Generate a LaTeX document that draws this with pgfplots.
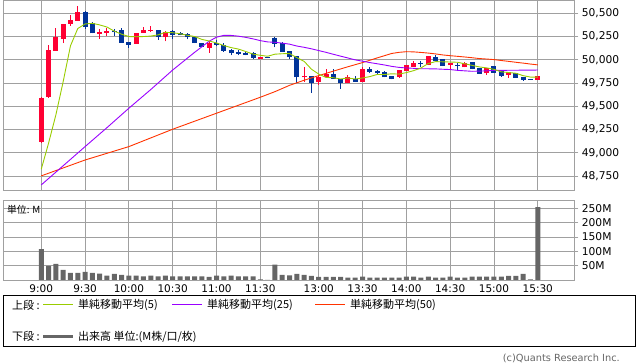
\documentclass[border=0pt]{standalone}
\usepackage{pgfplots}
\pgfplotsset{compat=1.18}
\usepackage{pgfplotstable}
\usepackage{fontspec}
\setmainfont{DejaVu Sans}
\newfontfamily\jp{Noto Sans CJK JP}
\definecolor{cUp}{HTML}{FF0033}
\definecolor{cDn}{HTML}{003399}
\definecolor{cMAa}{HTML}{99CC00}
\definecolor{cMAb}{HTML}{9900FF}
\definecolor{cMAc}{HTML}{FF3300}
\definecolor{gridc}{HTML}{A0A0A0}
\definecolor{volc}{HTML}{666666}

\pgfplotstableread{
i o h l c
0 49120 49604 49100 49586
1 49597 50159 49590 50105
2 50098 50342 50098 50248
3 50224 50385 50178 50385
4 50385 50482 50367 50428
5 50420 50582 50420 50514
8 50277 50334 50227 50299
9 50288 50342 50256 50310
13 50173 50288 50173 50288
14 50291 50356 50291 50320
15 50310 50363 50299 50320
17 50242 50310 50199 50299
23 50127 50205 50076 50184
30 50012 50033 50012 50033
36 49812 49920 49762 49824
38 49762 49835 49733 49819
39 49812 49904 49812 49847
42 49747 49840 49747 49812
44 49762 49926 49762 49904
49 49812 49890 49805 49890
50 49883 49947 49883 49947
51 49926 49990 49926 49969
53 49947 50041 49947 50041
56 49941 49962 49904 49962
58 49919 49976 49919 49962
61 49855 49912 49840 49912
64 49840 49869 49804 49869
68 49783 49826 49783 49826
}\up

\pgfplotstableread{
i o h l c
6 50514 50520 50334 50350
7 50392 50406 50285 50285
10 50306 50328 50256 50296
11 50320 50342 50184 50184
12 50195 50195 50130 50162
16 50320 50320 50213 50248
18 50306 50320 50220 50270
19 50291 50300 50263 50263
20 50277 50291 50220 50242
21 50242 50250 50178 50178
22 50184 50184 50135 50141
24 50184 50213 50148 50162
25 50156 50184 50084 50098
26 50105 50119 50048 50070
27 50084 50105 50048 50062
28 50076 50090 50048 50055
29 50070 50084 50005 50020
31 50033 50033 50020 50020
32 50234 50248 50134 50170
33 50177 50190 50084 50084
34 50091 50091 50012 50027
35 50041 50041 49754 49812
37 49826 49830 49646 49754
40 49847 49898 49797 49797
41 49797 49797 49690 49747
43 49797 49826 49762 49762
45 49904 49920 49855 49869
46 49876 49890 49848 49862
47 49869 49880 49812 49812
48 49826 49826 49790 49797
52 49962 49984 49926 49952
54 50027 50055 49990 49990
55 50005 50005 49933 49933
57 49947 49969 49890 49937
59 49976 49976 49896 49904
60 49912 49912 49847 49847
62 49933 49933 49862 49862
63 49876 49876 49815 49826
65 49855 49855 49804 49804
66 49819 49819 49776 49783
67 49796 49796 49788 49790
}\down

\pgfplotstableread{
i v
0 48823
1 49103
2 49407
3 49765
4 50150
5 50336
6 50385
7 50392
8 50375
9 50352
10 50308
11 50275
12 50250
13 50248
14 50250
15 50255
16 50268
17 50295
18 50291
19 50280
20 50264
21 50250
22 50219
23 50202
24 50181
25 50153
26 50131
27 50115
28 50089
29 50061
30 50048
31 50038
32 50060
33 50065
34 50067
35 50023
36 49983
37 49899
38 49846
39 49810
40 49807
41 49793
42 49804
43 49793
44 49804
45 49819
46 49842
47 49842
48 49849
49 49846
50 49862
51 49883
52 49912
53 49960
54 49980
55 49978
56 49976
57 49973
58 49957
59 49940
60 49923
61 49913
62 49897
63 49870
64 49863
65 49855
66 49829
67 49814
68 49814
}\maA

\pgfplotstableread{
i v
0 48654
3 48860
6 49066
9 49270
12 49479
15 49680
18 49890
21 50080
23 50200
24 50243
25 50263
26 50262
27 50254
28 50241
29 50225
30 50206
31 50192
32 50188
33 50179
34 50168
35 50148
36 50134
37 50118
38 50099
39 50080
40 50059
41 50039
42 50019
43 49999
44 49985
45 49970
46 49957
47 49944
48 49929
49 49918
50 49912
51 49908
52 49903
53 49903
54 49902
55 49898
56 49895
57 49886
58 49881
59 49876
60 49878
61 49881
62 49886
63 49886
64 49887
65 49887
66 49889
67 49888
68 49890
}\maB

\pgfplotstableread{
i v
0 48751
6 48922
12 49066
18 49253
24 49425
30 49597
32 49657
34 49725
36 49780
38 49830
40 49878
42 49925
44 49970
46 50020
48 50068
49 50080
50 50087
51 50085
52 50079
53 50072
54 50063
55 50052
56 50044
57 50037
58 50030
59 50022
60 50013
61 50008
62 50002
63 49992
64 49983
65 49973
66 49964
67 49954
68 49945
}\maC

\pgfplotstableread{
i v
0 108
1 49
2 56
3 35
4 24.5
5 24.5
6 28
7 24.5
8 22
9 15
10 21
11 17.5
12 15
13 15
14 13
15 15
16 13
17 15
18 13
19 13
20 13
21 13
22 13
23 10.5
24 15
25 13
26 15
27 13
28 13
29 13
30 2
31 0
32 54
33 17.5
34 16
35 21
36 17.5
37 14
38 10.5
39 10.5
40 10.5
41 10.5
42 8
43 8
44 12
45 8
46 8
47 8
48 8
49 8
50 12
51 12
52 8
53 12
54 8
55 8
56 12
57 8
58 8
59 12
60 12
61 12
62 12
63 12
64 14
65 14
66 21
67 2
68 255
}\vol

\pgfplotsset{common/.style={
  scale only axis, width=571pt,
  xmin=-5.2, xmax=73,
  xtick={0,6,12,18,24,30,38,44,50,56,62,68},
  xmajorgrids, ymajorgrids,
  grid style={draw=gridc, line width=0.8pt},
  axis line style={draw=gridc, line width=0.8pt},
  xtick style={draw=none},
  ytick pos=right, yticklabel pos=right,
  tick align=outside, major tick length=4pt,
  ytick style={draw=gridc, line width=0.8pt},
  scaled y ticks=false, scaled x ticks=false,
  yticklabel style={font=\fontsize{10.7}{12}\selectfont, text=black},
  xticklabel style={font=\fontsize{10.5}{12}\selectfont, text=black, yshift=3pt},
}}
\pgfplotsset{candle/.style={draw=none, mark=none, error bars/.cd, y dir=plus, y explicit, error mark=none,
  error bar style={draw=#1, line width=1pt, solid}}}
\pgfplotsset{body/.style={draw=none, mark=none, error bars/.cd, y dir=plus, y explicit, error mark=none,
  error bar style={draw=#1, line width=5pt, solid}}}

\begin{document}
\begin{tikzpicture}
\useasboundingbox (0pt,0pt) rectangle (638pt,362pt);

\begin{axis}[common, at={(3.3pt,171.7pt)}, anchor=south west, height=190.3pt,
  ymin=48596, ymax=50643,
  ytick={48750,49000,49250,49500,49750,50000,50250,50500},
  yticklabels={{48,750},{49,000},{49,250},{49,500},{49,750},{50,000},{50,250},{50,500}},
  xticklabels={}]
\addplot[candle=cUp] table[x=i, y=l, y error plus expr=\thisrow{h}-\thisrow{l}] {\up};
\addplot[candle=cDn] table[x=i, y=l, y error plus expr=\thisrow{h}-\thisrow{l}] {\down};
\addplot[body=cUp] table[x=i, y=o, y error plus expr=\thisrow{c}-\thisrow{o}] {\up};
\addplot[body=cDn] table[x=i, y=c, y error plus expr=\thisrow{o}-\thisrow{c}] {\down};
\addplot[cMAc, line width=0.9pt, mark=none] table[x=i, y=v] {\maC};
\addplot[cMAb, line width=0.9pt, mark=none] table[x=i, y=v] {\maB};
\addplot[cMAa, line width=0.9pt, mark=none] table[x=i, y=v] {\maA};
\end{axis}

\begin{axis}[common, at={(3.3pt,82pt)}, anchor=south west, height=80pt,
  ymin=0, ymax=279.7,
  ytick={50,100,150,200,250},
  yticklabels={50M,100M,150M,200M,250M},
  xticklabels={9:00,9:30,10:00,10:30,11:00,11:30,13:00,13:30,14:00,14:30,15:00,15:30}]
\addplot[ybar, bar width=5pt, fill=volc, draw=none] table[x=i, y=v] {\vol};
\end{axis}

\node[anchor=west, inner sep=0pt, font=\jp\fontsize{9.8}{11}\selectfont] at (7pt,152.5pt) {単位: M};

\draw[black, line width=0.8pt] (3.3pt,15.3pt) rectangle (635pt,67pt);
\begin{scope}[every node/.style={anchor=west, inner sep=0pt, font=\jp\fontsize{11}{12}\selectfont}]
\node at (12pt,57pt) {上段 :};
\draw[cMAa, line width=1pt] (43pt,57pt) -- (73pt,57pt);
\node at (78pt,57pt) {単純移動平均(5)};
\draw[cMAb, line width=1pt] (172pt,57pt) -- (202pt,57pt);
\node at (207pt,57pt) {単純移動平均(25)};
\draw[cMAc, line width=1pt] (315pt,57pt) -- (345pt,57pt);
\node at (350pt,57pt) {単純移動平均(50)};
\node at (12pt,25.3pt) {下段 :};
\draw[volc, line width=3pt] (43pt,25.3pt) -- (73pt,25.3pt);
\node at (78pt,25.3pt) {出来高 単位:(M株/口/枚)};
\end{scope}
\node[anchor=base east, inner sep=0pt, text=volc, font=\fontsize{9.8}{11}\selectfont] at (620pt,1pt) {(c)Quants Research Inc.};
\end{tikzpicture}
\end{document}
